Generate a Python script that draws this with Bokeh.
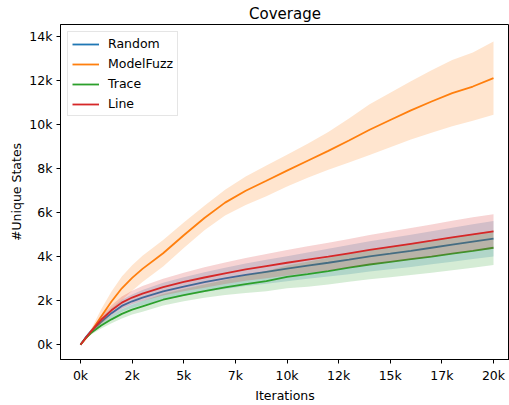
from bokeh.plotting import figure
from bokeh.models import FixedTicker, Legend, LegendItem
from bokeh.embed import file_html
from bokeh.resources import INLINE

# ---- data ----
iterations = [0, 250, 500, 1000, 1500, 2000, 2500, 3000, 4000, 5000, 6000, 7000, 8000,
              9000, 10000, 11000, 12000, 13000, 14000, 15000, 16000, 17000, 18000, 19000, 20000]

random_mean = [0, 330, 600, 1040, 1430, 1760, 1970, 2140, 2420, 2640, 2840, 3010, 3170,
               3310, 3450, 3590, 3720, 3860, 4010, 4130, 4260, 4400, 4540, 4680, 4810]
random_std = [0, 50, 100, 170, 230, 280, 310, 340, 390, 420, 450, 480, 510,
              540, 570, 600, 630, 660, 690, 710, 730, 750, 770, 790, 810]

modelfuzz_mean = [0, 270, 560, 1280, 1960, 2560, 3030, 3440, 4150, 4970, 5750, 6450, 6990,
                  7440, 7900, 8350, 8800, 9270, 9760, 10200, 10640, 11040, 11420, 11720, 12100]
modelfuzz_std = [0, 40, 120, 330, 450, 540, 580, 600, 600, 580, 560, 580, 650,
                 700, 720, 770, 860, 1000, 1150, 1240, 1320, 1420, 1500, 1550, 1660]

trace_mean = [0, 300, 530, 870, 1150, 1400, 1590, 1740, 2040, 2250, 2430, 2600, 2750,
              2890, 3080, 3200, 3340, 3500, 3640, 3760, 3880, 4000, 4130, 4260, 4400]
trace_std = [0, 40, 80, 140, 180, 210, 225, 240, 260, 280, 300, 340, 400,
             460, 520, 570, 610, 640, 670, 700, 720, 740, 750, 770, 780]

line_mean = [0, 310, 590, 1130, 1560, 1910, 2140, 2320, 2610, 2850, 3050, 3240, 3420,
             3570, 3720, 3860, 4000, 4150, 4300, 4440, 4580, 4720, 4870, 5010, 5140]
line_std = [0, 50, 100, 170, 230, 280, 310, 340, 380, 420, 460, 490, 520,
            550, 580, 610, 630, 650, 680, 700, 720, 740, 755, 770, 780]

series_names = ["Random", "ModelFuzz", "Trace", "Line"]
series_colors = ["#1f77b4", "#ff7f0e", "#2ca02c", "#d62728"]

x_ticks = [0, 2500, 5000, 7500, 10000, 12500, 15000, 17500, 20000]
x_tick_labels = ["0k", "2k", "5k", "7k", "10k", "12k", "15k", "17k", "20k"]
y_ticks = [0, 2000, 4000, 6000, 8000, 10000, 12000, 14000]
y_tick_labels = ["0k", "2k", "4k", "6k", "8k", "10k", "12k", "14k"]

FONT = "DejaVu Sans"

p = figure(width=509, height=405, output_backend="svg", toolbar_location=None,
           x_range=(-970, 20775), y_range=(-673, 14536),
           title="Coverage")
p.min_border_left = 60
p.min_border_right = 0
p.min_border_bottom = 42
p.min_border_top = 24
p.background_fill_color = "white"
p.border_fill_color = "white"
p.outline_line_color = "black"
p.outline_line_width = 1
p.grid.visible = False

p.title.align = "center"
p.title.text_font = FONT
p.title.text_font_size = "15px"
p.title.text_font_style = "normal"
p.title.text_color = "black"
p.title.standoff = 3
p.title.offset = 0

for ax in (p.xaxis[0], p.yaxis[0]):
    ax.major_tick_in = 0
    ax.major_tick_out = 4
    ax.minor_tick_line_color = None
    ax.major_label_text_font = FONT
    ax.major_label_text_font_size = "12.5px"
    ax.major_label_text_color = "black"
    ax.axis_label_text_font = FONT
    ax.axis_label_text_font_size = "12.5px"
    ax.axis_label_text_font_style = "normal"
    ax.axis_label_text_color = "black"
    ax.axis_line_color = "black"
    ax.major_tick_line_color = "black"
    ax.major_label_standoff = 4
    ax.axis_label_standoff = 2

p.xaxis.ticker = FixedTicker(ticks=x_ticks)
p.xaxis.major_label_overrides = {t: l for t, l in zip(x_ticks, x_tick_labels)}
p.yaxis.ticker = FixedTicker(ticks=y_ticks)
p.yaxis.major_label_overrides = {t: l for t, l in zip(y_ticks, y_tick_labels)}
p.xaxis.axis_label = "Iterations"
p.yaxis.axis_label = "#Unique States"

means = [random_mean, modelfuzz_mean, trace_mean, line_mean]
stds = [random_std, modelfuzz_std, trace_std, line_std]

items = []
for name, color, m, s in zip(series_names, series_colors, means, stds):
    lo = [a - b for a, b in zip(m, s)]
    hi = [a + b for a, b in zip(m, s)]
    p.varea(x=iterations, y1=lo, y2=hi, fill_color=color, fill_alpha=0.2)
    r = p.line(iterations, m, line_color=color, line_width=1.8)
    items.append(LegendItem(label=name, renderers=[r]))

legend = Legend(items=items, location="top_left")
legend.label_text_font = FONT
legend.label_text_font_size = "12.5px"
legend.label_text_color = "black"
legend.glyph_width = 27
legend.glyph_height = 14
legend.label_height = 14
legend.label_standoff = 9
legend.spacing = 5
legend.padding = 4
legend.margin = 7
legend.border_line_color = "#cccccc"
legend.border_line_width = 1
legend.background_fill_alpha = 0.8
p.add_layout(legend)

open("out.html", "w").write(file_html(p, INLINE))
